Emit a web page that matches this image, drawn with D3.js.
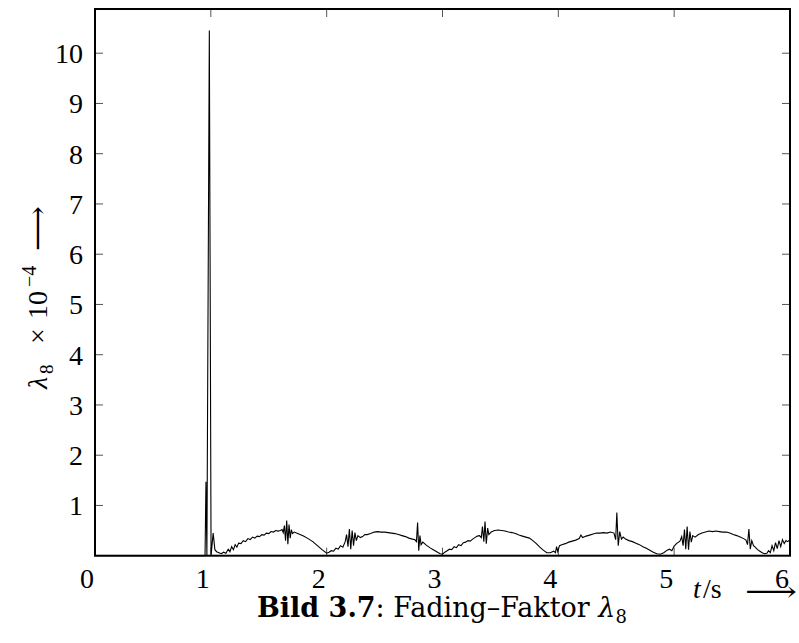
<!DOCTYPE html>
<html>
<head>
<meta charset="utf-8">
<script src="https://cdn.jsdelivr.net/npm/d3@7"></script>
<style>
  body { margin: 0; background: #fff; }
  text { font-family: "Liberation Serif", "DejaVu Serif", serif; fill: #000; }
</style>
</head>
<body>
<div id="chart"></div>
<script>
// time in s
var time = [
  0, 0.95, 0.958, 0.966, 0.987, 1.002, 1.02, 1.035, 1.05, 1.07, 1.09, 1.11, 1.13,
  1.15, 1.165, 1.18, 1.195, 1.21, 1.225, 1.24, 1.26, 1.28, 1.3, 1.32, 1.34, 1.36, 1.38, 1.4, 1.42, 1.44, 1.46, 1.48, 1.5, 1.52, 1.54, 1.56, 1.58,
  1.6, 1.615, 1.625, 1.635, 1.645, 1.655, 1.665, 1.675, 1.685, 1.695, 1.705, 1.72,
  1.76, 1.8, 1.84, 1.88, 1.92, 1.96, 2.0, 2.02, 2.04, 2.06, 2.08, 2.1, 2.12, 2.14,
  2.16, 2.172, 2.184, 2.196, 2.208, 2.22, 2.232, 2.244, 2.256, 2.27, 2.29,
  2.31, 2.33, 2.35, 2.38, 2.41, 2.44, 2.47, 2.5, 2.53, 2.56, 2.59, 2.62, 2.65, 2.68, 2.71, 2.74, 2.76,
  2.775, 2.785, 2.795, 2.805, 2.815, 2.83,
  2.86, 2.89, 2.92, 2.95, 2.98, 3.0, 3.02, 3.04, 3.06, 3.08, 3.1, 3.12, 3.14, 3.16, 3.18, 3.2, 3.22, 3.24, 3.26, 3.28, 3.3, 3.32,
  3.335, 3.345, 3.357, 3.367, 3.378, 3.39, 3.4, 3.42,
  3.45, 3.48, 3.51, 3.54, 3.57, 3.6, 3.63, 3.66, 3.69, 3.72, 3.75, 3.78, 3.81, 3.84, 3.87, 3.9, 3.93, 3.96, 3.975, 3.985,
  3.995, 4.01, 4.03, 4.06, 4.09, 4.12, 4.15, 4.18, 4.195, 4.21, 4.24, 4.27, 4.3, 4.33, 4.36, 4.39, 4.42, 4.45, 4.48,
  4.495, 4.505, 4.517, 4.53, 4.545,
  4.56, 4.58, 4.61, 4.64, 4.67, 4.7, 4.73, 4.76, 4.79, 4.82, 4.85, 4.88, 4.91, 4.94, 4.96, 4.98, 5.0, 5.02, 5.05,
  5.065, 5.077, 5.089, 5.1, 5.112, 5.124, 5.136, 5.148, 5.16, 5.18,
  5.21, 5.24, 5.27, 5.3, 5.33, 5.36, 5.39, 5.42, 5.45, 5.48, 5.51, 5.54, 5.57, 5.6,
  5.62, 5.633, 5.645, 5.657, 5.67, 5.685,
  5.7, 5.72, 5.74, 5.76, 5.78, 5.8, 5.815, 5.83, 5.845, 5.86, 5.875, 5.89, 5.905, 5.92, 5.935, 5.95, 5.965, 5.98, 6.0
];

// lambda_8 x 10^-4
var lambda8 = [
  0, 0, 1.47, 0, 10.45, 0, 0.45, 0.12, 0.08, 0.06, 0.04, 0.07, 0.05,
  0.13, 0.08, 0.18, 0.12, 0.22, 0.17, 0.25, 0.24, 0.3, 0.28, 0.34, 0.32, 0.37, 0.35, 0.39, 0.38, 0.42, 0.41, 0.45, 0.44, 0.48, 0.47, 0.5, 0.49,
  0.5, 0.52, 0.46, 0.6, 0.3, 0.7, 0.23, 0.62, 0.35, 0.52, 0.44, 0.47,
  0.43, 0.39, 0.34, 0.28, 0.2, 0.12, 0.05, 0.07, 0.1, 0.09, 0.15, 0.13, 0.2, 0.17,
  0.28, 0.42, 0.18, 0.53, 0.13, 0.5, 0.2, 0.46, 0.3, 0.4, 0.36,
  0.38, 0.42, 0.42, 0.44, 0.47, 0.48, 0.47, 0.47, 0.46, 0.45, 0.44, 0.42, 0.4, 0.38, 0.35, 0.33, 0.32,
  0.28, 0.66, 0.1, 0.4, 0.22, 0.27,
  0.21, 0.16, 0.12, 0.08, 0.04, 0.03, 0.07, 0.1, 0.13, 0.12, 0.18, 0.16, 0.22, 0.2, 0.26, 0.27, 0.3, 0.29, 0.33, 0.36, 0.39, 0.4,
  0.36, 0.58, 0.28, 0.68, 0.24, 0.55, 0.42, 0.47,
  0.5, 0.51, 0.5, 0.49, 0.47, 0.46, 0.44, 0.41, 0.39, 0.37, 0.35, 0.3, 0.24, 0.17, 0.11, 0.06, 0.06, 0.09, 0.06, 0.18,
  0.08, 0.2, 0.22, 0.24, 0.27, 0.29, 0.31, 0.34, 0.41, 0.36, 0.39, 0.41, 0.43, 0.45, 0.45, 0.46, 0.45, 0.47, 0.45,
  0.32, 0.86, 0.2, 0.48, 0.33,
  0.37, 0.33, 0.3, 0.28, 0.25, 0.22, 0.18, 0.15, 0.11, 0.07, 0.04, 0.03, 0.06, 0.11, 0.13, 0.1, 0.19, 0.24, 0.29,
  0.38, 0.2, 0.52, 0.13, 0.58, 0.12, 0.48, 0.27, 0.4, 0.37,
  0.42, 0.45, 0.47, 0.49, 0.48, 0.49, 0.48, 0.47, 0.47, 0.45, 0.42, 0.4, 0.37, 0.34,
  0.31, 0.22, 0.53, 0.13, 0.3, 0.2,
  0.17, 0.12, 0.09, 0.06, 0.04, 0.05, 0.1, 0.06, 0.2, 0.1, 0.26, 0.14, 0.3, 0.18, 0.32, 0.24, 0.3, 0.28, 0.32
];

var xTicks = [0, 1, 2, 3, 4, 5, 6];
var yTicks = [1, 2, 3, 4, 5, 6, 7, 8, 9, 10];

var width = 799, height = 643;
// plot frame (window.top is reserved, so use own names)
var pLeft = 95, pRight = 790, pTop = 9, pBottom = 555.7;

var svg = d3.select("#chart").append("svg")
  .attr("width", width)
  .attr("height", height);

var x = d3.scaleLinear().domain([0, 6]).range([pLeft, pRight]);
var y = d3.scaleLinear().domain([0, 10.88]).range([pBottom, pTop]);

// inward ticks on all four sides
var tickLen = 8;
var ticks = svg.append("g").attr("stroke", "#555").attr("stroke-width", 1);
ticks.selectAll(".yl").data(yTicks).enter().append("line")
  .attr("x1", pLeft).attr("x2", pLeft + tickLen)
  .attr("y1", function(d) { return y(d); }).attr("y2", function(d) { return y(d); });
ticks.selectAll(".yr").data(yTicks).enter().append("line")
  .attr("x1", pRight).attr("x2", pRight - tickLen)
  .attr("y1", function(d) { return y(d); }).attr("y2", function(d) { return y(d); });
ticks.selectAll(".xb").data(xTicks.slice(1, 6)).enter().append("line")
  .attr("x1", function(d) { return x(d); }).attr("x2", function(d) { return x(d); })
  .attr("y1", pBottom).attr("y2", pBottom - tickLen);
ticks.selectAll(".xt").data(xTicks.slice(1, 6)).enter().append("line")
  .attr("x1", function(d) { return x(d); }).attr("x2", function(d) { return x(d); })
  .attr("y1", pTop).attr("y2", pTop + tickLen);

// data line
var line = d3.line()
  .x(function(d, i) { return x(time[i]); })
  .y(function(d) { return y(d); });

svg.append("path")
  .datum(lambda8)
  .attr("fill", "none")
  .attr("stroke", "#000")
  .attr("stroke-width", 1.1)
  .attr("d", line);

// frame
svg.append("rect")
  .attr("x", pLeft).attr("y", pTop)
  .attr("width", pRight - pLeft).attr("height", pBottom - pTop)
  .attr("fill", "none").attr("stroke", "#000").attr("stroke-width", 2);

// tick labels
svg.selectAll(".ylab").data(yTicks).enter().append("text")
  .attr("x", pLeft - 12)
  .attr("y", function(d) { return y(d) + 10; })
  .attr("text-anchor", "end")
  .style("font-size", "28px")
  .text(function(d) { return d; });

svg.selectAll(".xlab").data(xTicks).enter().append("text")
  .attr("x", function(d) { return x(d) - 8; })
  .attr("y", 588)
  .attr("text-anchor", "middle")
  .style("font-size", "28px")
  .text(function(d) { return d; });

// y axis title, pieces placed along the rotated baseline
var yt = svg.append("g").attr("transform", "translate(47,389) rotate(-90)")
  .style("font-size", "28px");
yt.append("text").attr("x", 0).style("font-style", "italic").text("λ");
yt.append("text").attr("x", 15).attr("y", 6).style("font-size", "19px").text("8");
yt.append("text").attr("x", 45).text("×");
yt.append("text").attr("x", 70).text("10");
yt.append("text").attr("x", 102).attr("y", -11).style("font-size", "20px").text("−4");
yt.append("text").attr("x", 138).attr("textLength", 45).attr("lengthAdjust", "spacingAndGlyphs").text("⟶");

// x axis title
var xt = svg.append("g").style("font-size", "28px");
xt.append("text").attr("x", 693).attr("y", 598).style("font-style", "italic").text("t");
xt.append("text").attr("x", 703).attr("y", 598).text("/s");
xt.append("text").attr("x", 745).attr("y", 601).attr("textLength", 52).attr("lengthAdjust", "spacingAndGlyphs").text("⟶");

// caption
var cap = svg.append("text")
  .attr("x", 257).attr("y", 617)
  .style("font-family", "'DejaVu Serif', serif")
  .style("font-size", "27px");
cap.append("tspan").style("font-weight", "bold").text("Bild 3.7");
cap.append("tspan").text(": Fading–Faktor ");
cap.append("tspan").style("font-style", "italic").text("λ");
cap.append("tspan").attr("dy", 6).style("font-size", "18px").text("8");
</script>
</body>
</html>
